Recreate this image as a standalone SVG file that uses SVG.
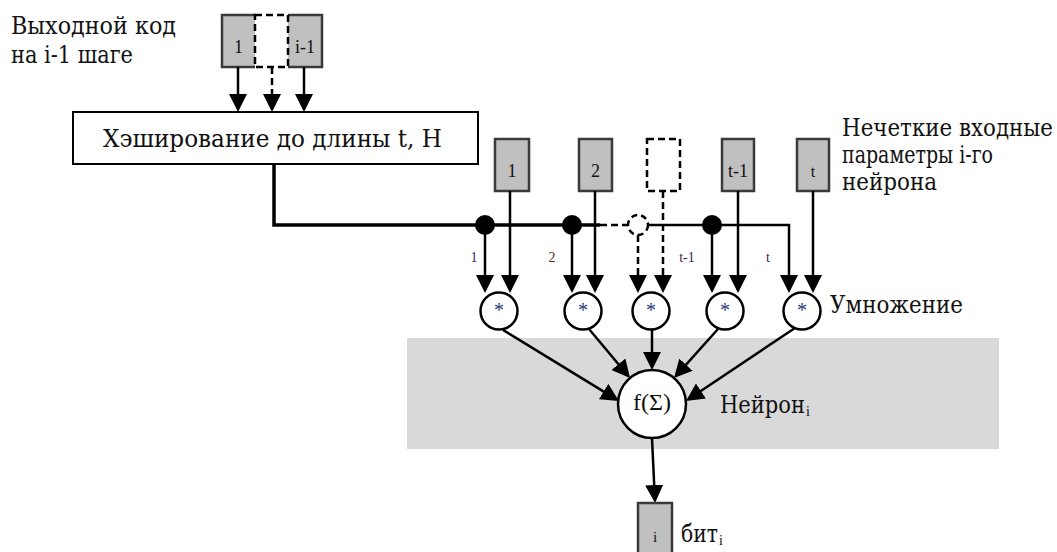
<svg xmlns="http://www.w3.org/2000/svg" width="1057" height="552" viewBox="0 0 1057 552">
<defs>
<marker id="ah" markerUnits="userSpaceOnUse" markerWidth="18" markerHeight="18" refX="15" refY="9" orient="auto">
<path d="M0,0 L18,9 L0,18 z" fill="#000"/>
</marker>
</defs>
<rect id="neuron-bg" x="407" y="338" width="592" height="111" fill="#d9d9d9"/>
<g id="labels" fill="#111">
<text font-family="DejaVu Serif, serif" font-size="24" x="11" y="34" textLength="165" lengthAdjust="spacingAndGlyphs">Выходной код</text>
<text font-family="DejaVu Serif, serif" font-size="24" x="11" y="63" textLength="122" lengthAdjust="spacingAndGlyphs">на i-1 шаге</text>
<text font-family="DejaVu Serif, serif" font-size="23.5" x="842" y="136" textLength="211" lengthAdjust="spacingAndGlyphs">Нечеткие входные</text>
<text font-family="DejaVu Serif, serif" font-size="23.5" x="842" y="163" textLength="151" lengthAdjust="spacingAndGlyphs">параметры i-го</text>
<text font-family="DejaVu Serif, serif" font-size="23.5" x="842" y="190" textLength="95" lengthAdjust="spacingAndGlyphs">нейрона</text>
<text font-family="DejaVu Serif, serif" font-size="24" x="830" y="313" textLength="133" lengthAdjust="spacingAndGlyphs">Умножение</text>
<text font-family="DejaVu Serif, serif" font-size="24" x="720" y="413" textLength="85" lengthAdjust="spacingAndGlyphs">Нейрон</text>
<text font-family="Liberation Serif, serif" font-size="14" x="806" y="416">i</text>
<text font-family="DejaVu Serif, serif" font-size="24" x="681" y="542" textLength="37" lengthAdjust="spacingAndGlyphs">бит</text>
<text font-family="Liberation Serif, serif" font-size="14" x="719" y="545">i</text>
</g>
<g id="out-1">
<rect x="222" y="15" width="33" height="52" fill="#c0c0c0"/>
<path d="M255,15 H222 V67 H255" fill="none" stroke="#3a3a3a" stroke-width="2.5"/>
<text font-family="Liberation Serif, serif" font-size="18" text-anchor="middle" fill="#111" x="238.5" y="53">1</text>
</g>
<g id="out-im1">
<rect x="288" y="15" width="34" height="52" fill="#c0c0c0"/>
<path d="M288,15 H322 V67 H288" fill="none" stroke="#3a3a3a" stroke-width="2.5"/>
<text font-family="Liberation Serif, serif" font-size="18" text-anchor="middle" fill="#111" x="305" y="53">i-1</text>
</g>
<g id="out-dashed">
<rect x="255" y="15" width="33" height="52" fill="none" stroke="#000" stroke-width="2.5" stroke-dasharray="7 4"/>
</g>
<g id="hash">
<rect x="73" y="112" width="405" height="52" fill="#fff" stroke="#000" stroke-width="2"/>
<text font-family="DejaVu Serif, serif" font-size="24" fill="#111" x="103" y="147" textLength="339" lengthAdjust="spacingAndGlyphs">Хэширование до длины t, H</text>
</g>
<g id="inputs" fill="#c0c0c0" stroke="#3a3a3a" stroke-width="2.5">
<g id="in-1"><rect x="495" y="139" width="34" height="52"/><text font-family="Liberation Serif, serif" font-size="18" text-anchor="middle" fill="#111" stroke="none" x="512" y="177">1</text></g>
<g id="in-2"><rect x="579" y="139" width="33" height="52"/><text font-family="Liberation Serif, serif" font-size="18" text-anchor="middle" fill="#111" stroke="none" x="595.5" y="177">2</text></g>
<g id="in-dashed"><rect x="647" y="139" width="33" height="52" fill="none" stroke="#000" stroke-dasharray="7 4"/></g>
<g id="in-tm1"><rect x="722" y="139" width="32" height="52"/><text font-family="Liberation Serif, serif" font-size="18" text-anchor="middle" fill="#111" stroke="none" x="738" y="177">t-1</text></g>
<g id="in-t"><rect x="797" y="139" width="32" height="52"/><text font-family="Liberation Serif, serif" font-size="16" text-anchor="middle" fill="#111" stroke="none" x="813" y="177">t</text></g>
</g>
<g id="connectors" fill="none" stroke="#000" stroke-width="2.5">
<line x1="238" y1="67" x2="238" y2="109" marker-end="url(#ah)"/>
<line x1="272" y1="67" x2="272" y2="109" stroke-dasharray="7 4" marker-end="url(#ah)"/>
<line x1="304" y1="67" x2="304" y2="109" marker-end="url(#ah)"/>
<path d="M274,164 V225 H600" stroke-width="3.5"/>
<line x1="600" y1="225" x2="628" y2="225" stroke-dasharray="7 4"/>
<circle cx="638" cy="225" r="10" fill="#fff" stroke-dasharray="6 4"/>
<path d="M648,225 H789 V290" marker-end="url(#ah)"/>
<line x1="485" y1="225" x2="485" y2="290" marker-end="url(#ah)"/>
<line x1="510" y1="191" x2="510" y2="290" marker-end="url(#ah)"/>
<line x1="572" y1="225" x2="572" y2="290" marker-end="url(#ah)"/>
<line x1="595" y1="191" x2="595" y2="290" marker-end="url(#ah)"/>
<line x1="638" y1="235" x2="638" y2="290" stroke-dasharray="7 4" marker-end="url(#ah)"/>
<line x1="663" y1="191" x2="663" y2="290" stroke-dasharray="7 4" marker-end="url(#ah)"/>
<line x1="712" y1="225" x2="712" y2="290" marker-end="url(#ah)"/>
<line x1="738" y1="191" x2="738" y2="290" marker-end="url(#ah)"/>
<line x1="813" y1="191" x2="813" y2="290" marker-end="url(#ah)"/>
<circle cx="485" cy="225" r="10" fill="#000" stroke="none"/>
<circle cx="572" cy="225" r="10" fill="#000" stroke="none"/>
<circle cx="712" cy="225" r="10" fill="#000" stroke="none"/>
<line x1="503" y1="330" x2="616.4" y2="399.4" marker-end="url(#ah)"/>
<line x1="589" y1="329" x2="628.1" y2="375.7" marker-end="url(#ah)"/>
<line x1="652" y1="330" x2="652" y2="367" marker-end="url(#ah)"/>
<line x1="718" y1="329" x2="676" y2="375.8" marker-end="url(#ah)"/>
<line x1="795" y1="328" x2="688.5" y2="399.3" marker-end="url(#ah)"/>
<line x1="652" y1="438" x2="654.9" y2="500" marker-end="url(#ah)"/>
</g>
<g id="connector-labels" font-size="14" text-anchor="middle" fill="#3a2060">
<text font-family="Liberation Serif, serif" x="474" y="262">1</text>
<text font-family="Liberation Serif, serif" x="552" y="262" fill="#4a3015">2</text>
<text font-family="Liberation Serif, serif" x="687" y="262">t-1</text>
<text font-family="Liberation Serif, serif" x="768" y="262">t</text>
</g>
<g id="multipliers" fill="#fff" stroke="#000" stroke-width="2.5">
<g id="mul-1"><circle cx="499" cy="311" r="18.5"/><text font-family="Liberation Serif, serif" font-size="20" text-anchor="middle" fill="#2a3a7a" stroke="none" x="499" y="317">*</text></g>
<g id="mul-2"><circle cx="583" cy="311" r="18.5"/><text font-family="Liberation Serif, serif" font-size="20" text-anchor="middle" fill="#2a3a7a" stroke="none" x="583" y="317">*</text></g>
<g id="mul-3"><circle cx="651" cy="311" r="18.5"/><text font-family="Liberation Serif, serif" font-size="20" text-anchor="middle" fill="#2a3a7a" stroke="none" x="651" y="317">*</text></g>
<g id="mul-4"><circle cx="725" cy="311" r="18.5"/><text font-family="Liberation Serif, serif" font-size="20" text-anchor="middle" fill="#2a3a7a" stroke="none" x="725" y="317">*</text></g>
<g id="mul-5"><circle cx="802" cy="311" r="18.5"/><text font-family="Liberation Serif, serif" font-size="20" text-anchor="middle" fill="#2a3a7a" stroke="none" x="802" y="317">*</text></g>
</g>
<g id="sum"><circle cx="652" cy="404" r="34" fill="#fff" stroke="#000" stroke-width="2.5"/><text font-family="Liberation Serif, serif" x="652" y="410" font-size="24" text-anchor="middle" fill="#111">f(Σ)</text></g>
<g id="bit"><rect x="638" y="503" width="34" height="60" fill="#c0c0c0" stroke="#3a3a3a" stroke-width="2.5"/><text font-family="Liberation Serif, serif" font-size="15" text-anchor="middle" fill="#111" x="655" y="542">i</text></g>
</svg>
